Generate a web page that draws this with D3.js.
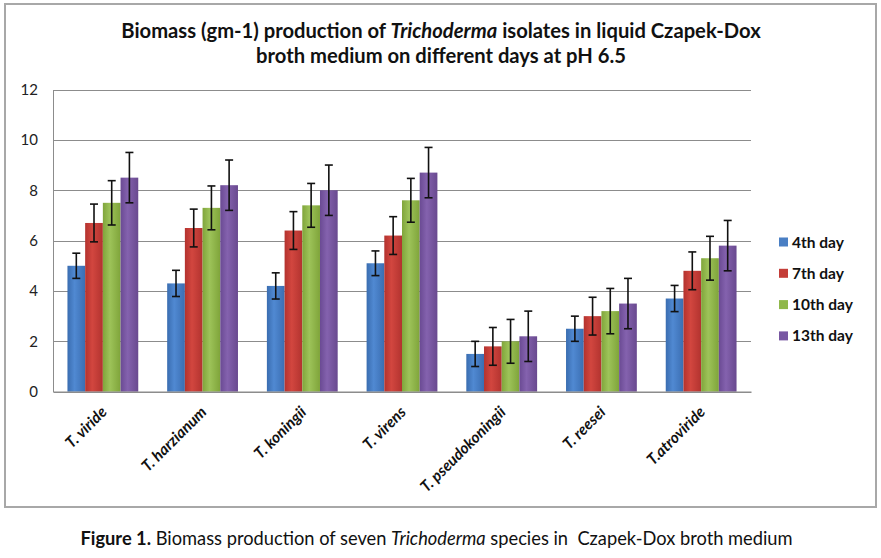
<!DOCTYPE html>
<html>
<head>
<meta charset="utf-8">
<script src="https://cdn.jsdelivr.net/npm/d3@7"></script>
<style>
  html, body { margin: 0; padding: 0; background: #fff; }
  svg { display: block; }
</style>
</head>
<body>
<svg id="chart" width="881" height="558"></svg>
<script>
// ---------- data ----------
const categories = ["T. viride", "T. harzianum", "T. koningii", "T. virens", "T. pseudokoningii", "T. reesei", "T.atroviride"];
const seriesNames = ["4th day", "7th day", "10th day", "13th day"];
const day4  = [5.0, 4.3, 4.2, 5.1, 1.5, 2.5, 3.7];
const day7  = [6.7, 6.5, 6.4, 6.2, 1.8, 3.0, 4.8];
const day10 = [7.5, 7.3, 7.4, 7.6, 2.0, 3.2, 5.3];
const day13 = [8.5, 8.2, 8.0, 8.7, 2.2, 3.5, 5.8];
const err4  = [0.50, 0.52, 0.52, 0.49, 0.50, 0.50, 0.52];
const err7  = [0.75, 0.75, 0.75, 0.75, 0.75, 0.75, 0.75];
const err10 = [0.88, 0.87, 0.87, 0.87, 0.87, 0.90, 0.87];
const err13 = [1.00, 1.00, 1.00, 1.00, 1.00, 1.00, 1.00];
const yTicks = [0, 2, 4, 6, 8, 10, 12];
const titleLine1a = "Biomass (gm-1) production of ";
const titleLine1b = "Trichoderma";
const titleLine1c = " isolates in liquid Czapek-Dox";
const titleLine2 = "broth medium on different days at pH 6.5";
const captionA = "Figure 1.";
const captionB = " Biomass production of seven ";
const captionC = "Trichoderma";
const captionD = " species in  Czapek-Dox broth medium";

const values = [day4, day7, day10, day13];
const errors = [err4, err7, err10, err13];

// ---------- styles ----------
const colors = [
  ["#3a6db0", "#5089d2", "#3b6eb2"],
  ["#b3322e", "#d2463f", "#b2332f"],
  ["#80a53b", "#9dc359", "#7fa43a"],
  ["#6a4a93", "#8462ae", "#69498f"]
];
const legendColors = ["#4a7fc4", "#c43d38", "#90b84a", "#7857a2"];
const FONT = "Lato, 'Open Sans', sans-serif";

const svg = d3.select("#chart");
const defs = svg.append("defs");
colors.forEach((c, i) => {
  const g = defs.append("linearGradient").attr("id", "g" + i)
    .attr("x1", "0").attr("x2", "1").attr("y1", "0").attr("y2", "0");
  g.append("stop").attr("offset", "0").attr("stop-color", c[0]);
  g.append("stop").attr("offset", "0.4").attr("stop-color", c[1]);
  g.append("stop").attr("offset", "1").attr("stop-color", c[2]);
});

// outer frame
svg.append("rect").attr("x", 5).attr("y", 4).attr("width", 871).attr("height", 503)
  .attr("fill", "#fff").attr("stroke", "#a8a8a8").attr("stroke-width", 2);

const plot = { left: 53, right: 751, top: 89.5, bottom: 391.7 };

const x0 = d3.scaleBand().domain(categories).range([plot.left, plot.right])
  .paddingInner(0.29).paddingOuter(0.145);
const x1 = d3.scaleBand().domain(seriesNames).range([0, x0.bandwidth()]);
const y = d3.scaleLinear().domain([0, 12]).range([plot.bottom, plot.top]);

// gridlines
svg.append("g").selectAll("line").data(yTicks.filter(t => t > 0)).join("line")
  .attr("x1", plot.left).attr("x2", plot.right)
  .attr("y1", d => Math.round(y(d)) + 0.5).attr("y2", d => Math.round(y(d)) + 0.5)
  .attr("stroke", "#8c8c8c").attr("stroke-width", 1);

// y axis
const yAxis = d3.axisLeft(y).tickValues(yTicks).tickSize(0).tickPadding(15);
const yg = svg.append("g").attr("transform", `translate(${plot.left},0)`).call(yAxis);
yg.select(".domain").attr("stroke", "#8c8c8c");
yg.selectAll("text").attr("font-family", FONT).attr("font-size", 15).attr("fill", "#222");

// bars
const groups = svg.append("g").selectAll("g").data(categories).join("g")
  .attr("transform", d => `translate(${x0(d)},0)`);

groups.each(function(cat, ci) {
  const g = d3.select(this);
  seriesNames.forEach((s, si) => {
    const v = values[si][ci];
    g.append("rect")
      .attr("x", x1(s)).attr("width", x1.bandwidth())
      .attr("y", y(v)).attr("height", y(0) - y(v))
      .attr("fill", `url(#g${si})`);
  });
});

// x axis line
const xAxis = d3.axisBottom(x0).tickSize(0).tickFormat("");
const xg = svg.append("g").attr("transform", `translate(0,${plot.bottom})`).call(xAxis);
xg.select(".domain").attr("stroke", "#8c8c8c").attr("stroke-width", 1.5);

// error bars
groups.each(function(cat, ci) {
  const g = d3.select(this);
  seriesNames.forEach((s, si) => {
    const v = values[si][ci], e = errors[si][ci];
    const cx = x1(s) + x1.bandwidth() / 2;
    const eg = g.append("g").attr("stroke", "#111").attr("stroke-width", 1.6);
    eg.append("line").attr("x1", cx).attr("x2", cx).attr("y1", y(v + e)).attr("y2", y(v - e));
    eg.append("line").attr("x1", cx - 4).attr("x2", cx + 4).attr("y1", y(v + e)).attr("y2", y(v + e));
    eg.append("line").attr("x1", cx - 4).attr("x2", cx + 4).attr("y1", y(v - e)).attr("y2", y(v - e));
  });
});

// x labels
svg.append("g").selectAll("text").data(categories).join("text")
  .attr("transform", d => `translate(${x0(d) + x0.bandwidth() / 2 + 5},413) rotate(-45)`)
  .attr("text-anchor", "end")
  .attr("font-family", FONT).attr("font-size", 15.5).attr("font-weight", "bold")
  .attr("font-style", "italic").attr("fill", "#111")
  .text(d => d);

// legend
const lg = svg.append("g").selectAll("g").data(seriesNames).join("g")
  .attr("transform", (d, i) => `translate(779,${242 + i * 31.3})`);
lg.append("rect").attr("x", 0).attr("y", -4.5).attr("width", 9).attr("height", 9)
  .attr("fill", (d, i) => legendColors[i]);
lg.append("text").attr("x", 13).attr("y", 5.5)
  .attr("font-family", FONT).attr("font-size", 15.5).attr("font-weight", "bold").attr("fill", "#111")
  .text(d => d);

// title (fit to measured width)
function fitText(sel, target) {
  const w = sel.node().getComputedTextLength();
  const fs = parseFloat(sel.attr("font-size"));
  sel.attr("font-size", fs * target / w);
}
const t1 = svg.append("text").attr("x", 441).attr("y", 38).attr("text-anchor", "middle")
  .attr("font-family", FONT).attr("font-size", 19).attr("font-weight", "bold").attr("fill", "#111");
t1.append("tspan").text(titleLine1a);
t1.append("tspan").attr("font-style", "italic").text(titleLine1b);
t1.append("tspan").text(titleLine1c);
fitText(t1, 640);
const t2 = svg.append("text").attr("x", 441).attr("y", 62.5).attr("text-anchor", "middle")
  .attr("font-family", FONT).attr("font-size", t1.attr("font-size")).attr("font-weight", "bold").attr("fill", "#111")
  .text(titleLine2);

// caption
const cap = svg.append("text").attr("x", 436.5).attr("y", 545).attr("text-anchor", "middle")
  .attr("font-family", FONT).attr("font-size", 16.5).attr("fill", "#111");
cap.append("tspan").attr("font-weight", "bold").text(captionA);
cap.append("tspan").text(captionB);
cap.append("tspan").attr("font-style", "italic").text(captionC);
cap.append("tspan").text(captionD).attr("xml:space", "preserve");
cap.attr("xml:space", "preserve");
fitText(cap, 713);
</script>
</body>
</html>
